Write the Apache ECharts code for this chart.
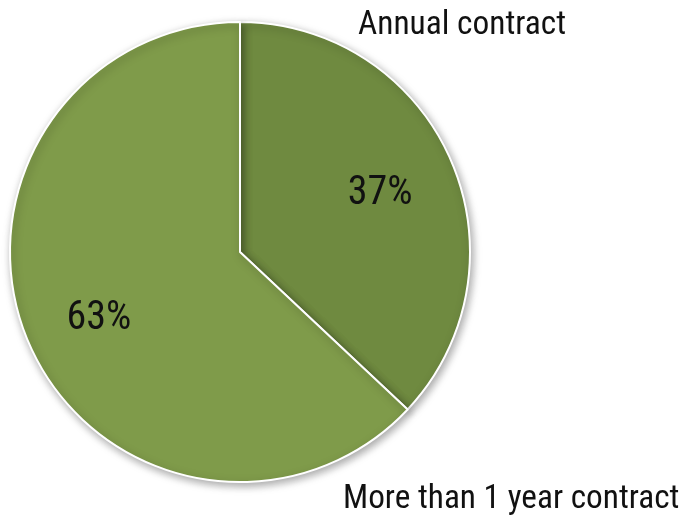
<!DOCTYPE html>
<html>
<head>
<meta charset="utf-8">
<script src="https://cdn.jsdelivr.net/npm/echarts@6/dist/echarts.min.js"></script>
<style>
  html, body { margin: 0; padding: 0; background: #fff; }
  #chart { width: 682px; height: 518px; }
</style>
</head>
<body>
<div id="chart"></div>
<script>
  // contract types and their shares (%)
  var categories = ['Annual contract', 'More than 1 year contract'];
  var shares = [37, 63];
  var colors = ['#6f8a40', '#7f9b4a'];

  var font = '"Roboto Condensed", "Liberation Sans Narrow", "DejaVu Sans Condensed", Roboto, sans-serif';

  // where the category names sit (left, middle of caps)
  var namePos = [
    { x: 358, y: 26, size: 33.4 },
    { x: 343, y: 500, size: 33.3 }
  ];
  // small nudges of the percentage labels
  var pctShift = [[-4, 4], [3, 5]];

  var pieData = categories.map(function (c, i) {
    return { name: c, value: shares[i], itemStyle: { color: colors[i] } };
  });

  var myChart = echarts.init(document.getElementById('chart'));
  myChart.setOption({
    animation: false,
    graphic: categories.map(function (c, i) {
      return {
        type: 'text',
        x: namePos[i].x,
        y: namePos[i].y,
        style: {
          text: c,
          font: namePos[i].size + 'px ' + font,
          fill: '#111',
          verticalAlign: 'middle'
        }
      };
    }),
    series: [
      {
        type: 'pie',
        center: [240, 252],
        radius: [0, 230],
        startAngle: 90,
        clockwise: true,
        data: pieData,
        itemStyle: {
          borderColor: '#fff',
          borderWidth: 2,
          shadowBlur: 8,
          shadowOffsetX: 2,
          shadowOffsetY: 3,
          shadowColor: 'rgba(0,0,0,0.35)'
        },
        label: { show: false },
        labelLine: { show: false },
        emphasis: { disabled: true }
      },
      {
        // invisible ring used only to place the percentage labels
        type: 'pie',
        center: [240, 252],
        radius: [0, 308],
        startAngle: 90,
        clockwise: true,
        silent: true,
        data: pieData.map(function (d) { return { name: d.name, value: d.value }; }),
        itemStyle: { color: 'transparent', borderWidth: 0 },
        label: {
          show: true,
          position: 'inside',
          formatter: '{c}%',
          fontFamily: font,
          fontSize: 40,
          color: '#111'
        },
        labelLayout: function (params) {
          var s = pctShift[params.dataIndex];
          return { dx: s[0], dy: s[1] };
        },
        labelLine: { show: false },
        emphasis: { disabled: true }
      }
    ]
  });
</script>
</body>
</html>
